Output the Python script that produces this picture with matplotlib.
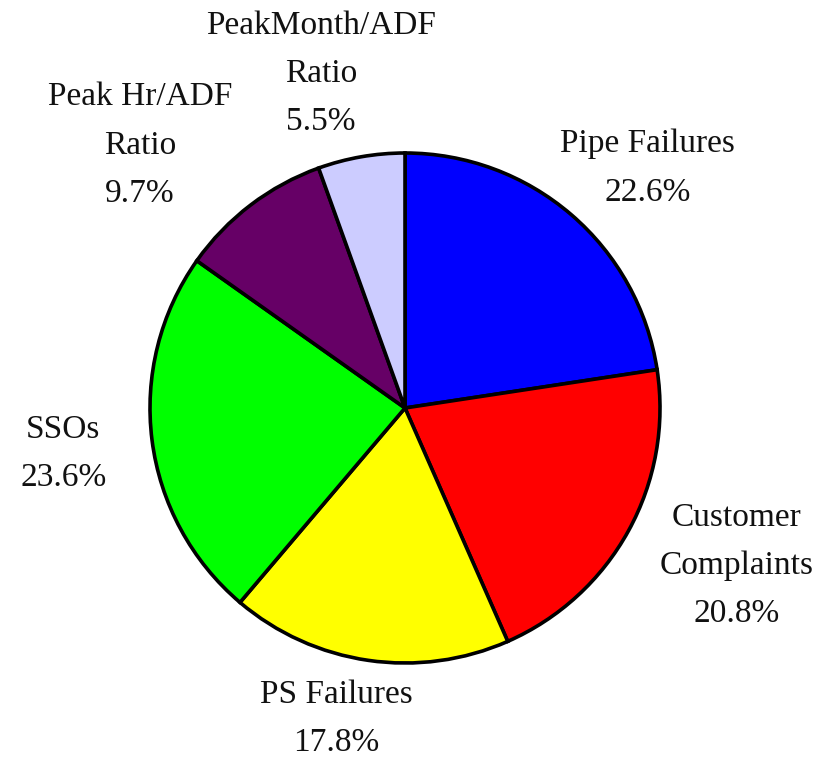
import matplotlib
matplotlib.use("Agg")
import matplotlib.pyplot as plt

# slice data, clockwise from 12 o'clock
labels = ["Pipe Failures", "Customer\nComplaints", "PS Failures", "SSOs",
          "Peak Hr/ADF\nRatio", "PeakMonth/ADF\nRatio"]
shares = [22.6, 20.8, 17.8, 23.6, 9.7, 5.5]
colors = ["#0000FF", "#FF0000", "#FFFF00", "#00FF00", "#660066", "#CCCCFF"]

# label centres (pie radius = 1, centre at origin)
label_pos = [(0.95, 0.94), (1.30, -0.62), (-0.27, -1.22), (-1.34, -0.18),
             (-1.04, 1.03), (-0.33, 1.31)]

plt.rcParams["font.family"] = ["Liberation Serif", "DejaVu Serif"]

fig = plt.figure(figsize=(8.31, 7.69), dpi=100)
ax = fig.add_axes([0, 0, 1, 1])
R_PX = 255.0
cx, cy = 405.0, 769 - 408.0

ax.pie(shares, colors=colors, startangle=90, counterclock=False, radius=1.0,
       wedgeprops=dict(edgecolor="black", linewidth=2.6))
ax.set_xlim(-cx / R_PX, (831 - cx) / R_PX)
ax.set_ylim(-cy / R_PX, (769 - cy) / R_PX)
ax.set_aspect("equal")
ax.axis("off")

for lab, val, (x, y) in zip(labels, shares, label_pos):
    ax.text(x, y, f"{lab}\n{val:.1f}%", ha="center", va="center",
            fontsize=24, linespacing=1.75, color="#111111")

fig.savefig("out.png", dpi=100, facecolor="white")
